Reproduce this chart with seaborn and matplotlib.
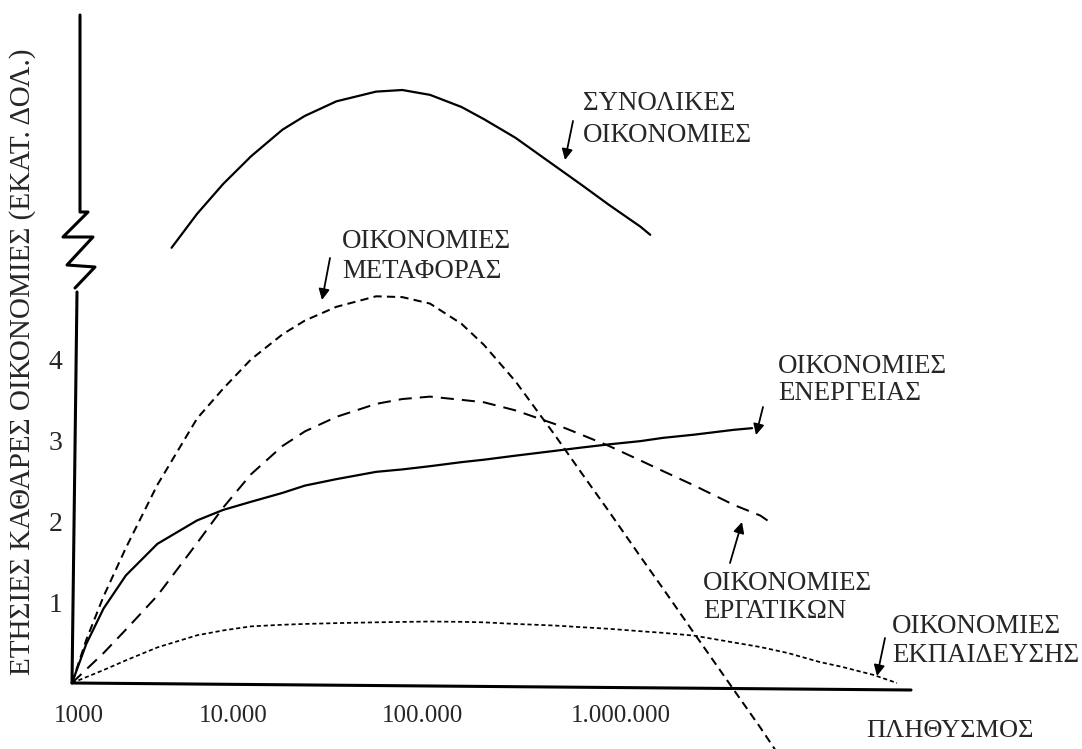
import matplotlib
matplotlib.use("Agg")
import matplotlib.pyplot as plt
from matplotlib.lines import Line2D
from matplotlib.transforms import ScaledTranslation
import seaborn as sns

# population (x) and net annual savings (y)
total_pop = [3600, 5000, 7000, 10000, 15000, 20000, 30000, 50000, 70000, 100000,
             150000, 200000, 300000, 500000, 700000, 1e6, 1.5e6, 1.7e6]
total_sav = [5.38, 5.80, 6.17, 6.51, 6.84, 7.01, 7.19, 7.31, 7.33, 7.27, 7.12,
             6.97, 6.74, 6.39, 6.16, 5.91, 5.64, 5.54]

energy_pop = [1000, 1200, 1500, 2000, 3000, 5000, 7000, 10000, 15000, 20000,
              30000, 50000, 70000, 100000, 150000, 200000, 300000, 500000,
              700000, 1e6, 1.5e6, 2e6, 3e6, 5e6, 6.3e6]
energy_sav = [0, 0.48, 0.92, 1.33, 1.72, 2.01, 2.14, 2.24, 2.35, 2.44, 2.52, 2.61,
              2.64, 2.68, 2.73, 2.76, 2.81, 2.87, 2.91, 2.95, 2.99, 3.03, 3.07,
              3.13, 3.15]

transport_pop = [1000, 1200, 1500, 2000, 3000, 5000, 7000, 10000, 15000, 20000,
                 30000, 50000, 70000, 100000, 150000, 200000, 300000, 500000,
                 700000, 1e6, 1.5e6, 2e6, 3e6, 5e6, 7e6, 8.45e6]
transport_sav = [0, 0.53, 1.07, 1.67, 2.45, 3.27, 3.64, 4.00, 4.31, 4.48, 4.65,
                 4.78, 4.77, 4.69, 4.44, 4.18, 3.73, 3.06, 2.60, 2.12, 1.56, 1.17,
                 0.61, -0.09, -0.55, -0.82]

labour_pop = [1000, 1500, 2000, 3000, 5000, 7000, 10000, 15000, 20000, 30000,
              50000, 70000, 100000, 150000, 200000, 300000, 500000, 700000, 1e6,
              1.5e6, 2e6, 3e6, 5e6, 7e6, 7.9e6]
labour_sav = [0, 0.37, 0.66, 1.08, 1.73, 2.17, 2.58, 2.93, 3.11, 3.29, 3.45, 3.51,
              3.54, 3.50, 3.47, 3.37, 3.20, 3.07, 2.93, 2.75, 2.62, 2.44, 2.20,
              2.07, 1.99]

educ_pop = [1000, 1500, 2000, 3000, 5000, 7000, 10000, 15000, 20000, 30000,
            50000, 70000, 100000, 150000, 200000, 300000, 500000, 700000, 1e6,
            1.5e6, 2e6, 3e6, 5e6, 7e6, 1e7, 1.5e7, 2e7, 3e7, 4.06e7]
educ_sav = [0, 0.16, 0.28, 0.44, 0.59, 0.65, 0.70, 0.72, 0.73, 0.74, 0.75, 0.755,
            0.76, 0.756, 0.75, 0.73, 0.71, 0.69, 0.67, 0.64, 0.62, 0.585, 0.50,
            0.445, 0.37, 0.26, 0.20, 0.10, 0.0]

x_ticks = [1e3, 1e4, 1e5, 1e6]
x_ticklabels = ["1000", "10.000", "100.000", "1.000.000"]
y_ticks = [1, 2, 3, 4]

W, H = 1082, 749
X0, Y0 = 72, 683          # pixel of the origin
DECADE, UNIT = 179, 80.9  # pixels per decade / per unit
X_END = 911
# the tick labels were placed by hand, a little off their ticks (pixels)
TICKLABEL_NUDGE = [7, -18, -8, 12]

sns.set_style("white")
plt.rcParams["font.family"] = ["Liberation Serif", "DejaVu Serif"]

fig = plt.figure(figsize=(W / 100, H / 100), dpi=100)
ax = fig.add_axes([X0 / W, (H - Y0) / H, (X_END - X0) / W, Y0 / H])
ax.set_xscale("log")


def fp(px, py):
    # pixel position of the picture -> figure fraction
    return px / W, 1 - py / H


def draw_curve(xs, ys, dashes=None, lw=1.6):
    sns.lineplot(x=xs, y=ys, ax=ax, color="black", linewidth=lw, clip_on=False)
    line = ax.lines[-1]
    if dashes:
        line.set_dashes(dashes)


draw_curve(total_pop, total_sav)
draw_curve(energy_pop, energy_sav)
draw_curve(transport_pop, transport_sav, dashes=(4.1, 2.6), lw=1.45)
draw_curve(labour_pop, labour_sav, dashes=(6.5, 4.0), lw=1.45)
draw_curve(educ_pop, educ_sav, dashes=(2.4, 1.6), lw=1.25)

ax.set_xlim(1e3, 10 ** (3 + (X_END - X0) / DECADE))
ax.set_ylim(0, Y0 / UNIT)

for side in ax.spines:
    ax.spines[side].set_visible(False)

ax.set_xticks(x_ticks)
ax.set_xticklabels(x_ticklabels)
ax.minorticks_off()
ax.set_yticks(y_ticks)
ax.set_yticklabels([str(v) for v in y_ticks])
ax.tick_params(axis="x", length=0, pad=16, labelsize=18)
ax.tick_params(axis="y", length=0, pad=7, labelsize=20)
for tick, dx in zip(ax.xaxis.get_major_ticks(), TICKLABEL_NUDGE):
    lab = tick.label1
    lab.set_transform(lab.get_transform() + ScaledTranslation(dx / 100, 0, fig.dpi_scale_trans))

ax.set_ylabel("ΕΤΗΣΙΕΣ ΚΑΘΑΡΕΣ ΟΙΚΟΝΟΜΙΕΣ (ΕΚΑΤ. ΔΟΛ.)", fontsize=21)
ax.yaxis.set_label_coords((36 - X0) / (X_END - X0), (Y0 - 362) / Y0)
fig.text(*fp(866, 737), "ΠΛΗΘΥΣΜΟΣ", fontsize=19, ha="left", va="baseline")

# hand-drawn axes: slightly sloping x-axis, broken vertical axis
axis_lines = [
    [(72, 683), (911, 690)],
    [(72, 683), (77, 292)],
    [(75, 288), (95, 267), (67, 265), (93, 237), (63, 237), (88, 212),
     (80, 212), (80, 15)],
]
for seg in axis_lines:
    xs, ys = zip(*[fp(px, py) for px, py in seg])
    fig.add_artist(Line2D(xs, ys, color="black", lw=2.2, transform=fig.transFigure))

# curve labels with arrows
labels = [
    ("ΣΥΝΟΛΙΚΕΣ", "ΟΙΚΟΝΟΜΙΕΣ", 583, 110, 142, (573, 121), (565, 160)),
    ("ΟΙΚΟΝΟΜΙΕΣ", "ΜΕΤΑΦΟΡΑΣ", 342, 248, 278, (330, 258), (322, 300)),
    ("ΟΙΚΟΝΟΜΙΕΣ", "ΕΝΕΡΓΕΙΑΣ", 778, 373, 400, (763, 407), (756, 435)),
    ("ΟΙΚΟΝΟΜΙΕΣ", "ΕΡΓΑΤΙΚΩΝ", 703, 590, 618, (730, 563), (742, 522)),
    ("ΟΙΚΟΝΟΜΙΕΣ", "ΕΚΠΑΙΔΕΥΣΗΣ", 892, 633, 662, (885, 638), (877, 676)),
]
for l1, l2, x0, b1, b2, tail, tip in labels:
    fig.text(*fp(x0, b1), l1, fontsize=19.4, ha="left", va="baseline")
    fig.text(*fp(x0, b2), l2, fontsize=19.4, ha="left", va="baseline")
    ax.annotate("", xy=(tip[0], H - tip[1]), xycoords="figure pixels",
                xytext=(tail[0], H - tail[1]), textcoords="figure pixels",
                arrowprops=dict(arrowstyle="-|>", color="black", lw=1.3,
                                mutation_scale=16, shrinkA=0, shrinkB=0))

fig.savefig("out.png", dpi=100)
